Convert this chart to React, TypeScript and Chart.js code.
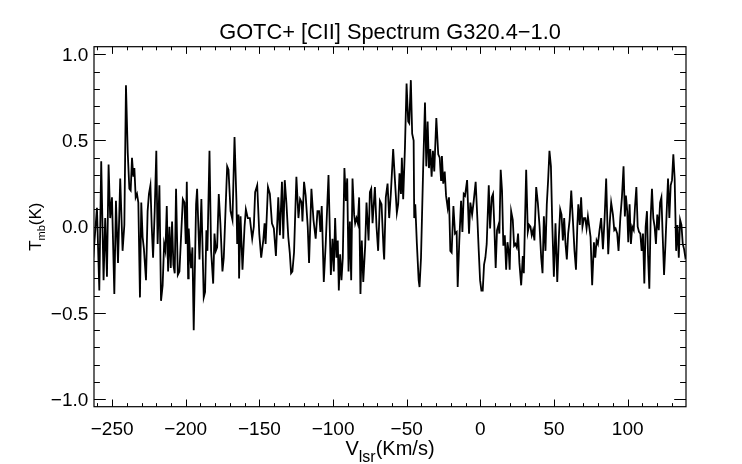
import React, { useEffect, useRef } from "react";
import { Chart, registerables } from "chart.js";

Chart.register(...registerables);

// ---- data (velocity km/s, Tmb K) ----
const vel1 = [-263.7,-262.8,-260.3,-258.7,-257.4,-255.8,-254.7,-253.5,-252.4,-251.3,-250.1,-248.5,-247.4,-246.0,-244.5,-242.9,-241.7,-240.6,-239.4,-238.3,-237.4,-236.5,-235.6,-234.9,-234.0,-233.1,-232.2,-231.1,-230.2,-229.3,-228.4,-227.0,-225.9,-225.0,-224.0,-223.1,-222.2,-221.1,-220.0,-219.1,-217.9,-216.8,-215.7,-214.7,-213.8,-212.9,-212.0,-211.1,-210.2,-209.3,-208.4,-207.5,-206.6,-205.4,-204.3,-203.2,-202.0,-200.9,-200.0,-199.3,-198.4];
const tmb1 = [-0.08,-0.18,0.11,-0.37,0.38,-0.31,0.05,-0.29,0.36,0.05,0.17,-0.39,0.15,-0.21,0.28,-0.14,0.01,0.82,0.43,0.22,0.21,0.40,0.29,0.34,0.17,0.19,0.14,-0.41,0.14,-0.06,-0.13,-0.31,0.09,0.19,0.24,0.00,-0.18,0.09,0.44,-0.10,0.24,-0.43,-0.34,-0.10,-0.14,0.12,-0.26,0.00,-0.24,0.03,-0.22,-0.27,0.22,-0.28,-0.26,-0.06,0.16,0.14,-0.10,0.26,-0.30];

const vel2 = [-198.0,-197.3,-196.4,-195.5,-194.6,-193.0,-192.3,-190.7,-189.4,-187.8,-186.9,-186.0,-185.3,-183.9,-182.8,-181.4,-180.5,-179.6,-178.7,-177.6,-176.5,-175.1,-174.2,-171.9,-171.0,-169.6,-168.3,-166.9,-165.6,-165.1,-164.2,-163.8,-162.8,-161.5,-160.1,-159.2,-157.9,-156.5,-154.9,-153.8,-152.9,-151.5,-150.1,-148.8,-147.4,-146.5,-145.8,-144.2,-142.9,-141.5,-140.2,-138.8,-137.2,-136.1,-134.7,-133.8];
const tmb2 = [-0.01,-0.13,-0.24,-0.12,-0.60,0.13,0.22,-0.19,0.16,-0.41,-0.38,-0.02,-0.14,0.44,-0.14,-0.33,-0.04,-0.14,-0.12,0.19,0.02,-0.26,-0.18,0.35,0.33,0.09,0.04,0.52,0.15,-0.10,0.07,-0.30,0.06,-0.25,0.00,0.10,0.05,0.05,-0.07,0.00,0.20,0.24,-0.04,-0.18,-0.08,0.02,-0.10,0.23,0.19,0.02,-0.01,-0.17,0.17,-0.05,0.26,-0.07];

const vel3 = [-132.8,-131.7,-130.4,-129.4,-128.5,-127.6,-126.5,-124.9,-123.5,-122.4,-121.3,-120.8,-119.7,-118.6,-117.2,-116.3,-114.7,-113.3,-111.8,-110.6,-109.5,-108.6,-107.7,-106.3,-105.0,-103.1,-101.5,-100.4,-99.5,-98.6,-97.7,-96.8,-96.1,-95.2,-94.3,-93.4,-92.3,-91.3,-90.4,-89.5,-88.6,-87.7,-86.8,-85.7,-85.0,-84.1,-83.2,-82.3,-81.4,-80.5,-79.5,-78.2,-77.3,-75.9,-75.0,-74.1,-73.2,-71.6,-70.5,-69.4];
const tmb3 = [0.27,0.14,-0.06,-0.15,-0.27,-0.26,-0.15,0.29,0.05,0.16,0.14,0.03,0.26,0.18,0.00,-0.21,0.22,0.04,-0.07,0.09,0.09,-0.03,0.12,-0.32,-0.10,0.30,-0.28,-0.07,-0.26,0.05,-0.18,-0.08,-0.37,-0.16,-0.31,-0.18,0.34,0.15,0.28,-0.26,0.03,-0.31,0.28,0.07,0.02,0.05,0.02,0.17,-0.39,-0.08,-0.32,-0.11,0.14,-0.08,0.20,0.22,0.02,0.23,0.00,-0.14];

const vel4 = [-68.2,-67.1,-65.7,-65.3,-64.2,-63.0,-61.9,-60.8,-59.2,-58.0,-56.7,-55.8,-54.9,-53.9,-53.3,-52.4,-51.2,-50.1,-49.0,-48.3,-47.2,-46.3,-45.3,-44.9,-44.2,-43.1,-41.9,-41.3,-40.3,-38.8,-37.6,-36.7,-35.8,-34.9,-34.0,-33.1,-32.2,-31.3,-29.9,-28.6,-27.6,-26.7,-26.1,-25.2,-24.2,-23.3,-22.2,-21.3,-20.4,-19.5,-18.3,-17.2,-16.1,-15.4,-14.3,-13.1,-12.2,-11.3,-10.4,-9.0,-7.7,-6.8,-5.6,-4.5];
const tmb4 = [0.15,0.13,-0.14,-0.19,0.17,0.25,0.05,0.19,0.45,0.27,0.08,0.13,0.31,0.19,0.40,0.16,0.46,0.83,0.61,0.60,0.85,0.54,0.50,0.05,0.13,-0.10,-0.31,-0.35,-0.18,0.35,0.72,0.35,0.61,0.34,0.45,0.29,0.44,0.32,0.63,0.42,0.40,0.27,0.41,0.25,0.32,0.18,0.11,0.17,-0.14,-0.15,0.12,-0.04,-0.03,-0.35,-0.08,0.15,-0.03,0.19,0.18,0.27,-0.04,0.14,0.07,0.15];

const vel5 = [-3.2,-2.0,-1.1,-0.2,0.7,1.6,2.5,3.4,4.3,5.7,6.6,7.7,8.6,9.5,10.4,11.3,12.3,12.9,13.8,14.7,15.6,16.6,17.5,18.4,19.3,19.9,20.9,22.0,22.9,23.8,24.7,25.6,26.5,27.7,28.8,29.5,30.4,31.1,32.2,33.1,34.0,34.9,35.8,36.7,37.9,39.0,40.2,41.3,42.2,43.1,44.2,45.1,46.0,46.9,47.9,48.8,49.9,51.0,52.2,53.3,54.2,55.1,56.0,56.9,57.8,58.7,59.6,60.6,61.7,62.8,63.9,64.9,65.8,66.5];
const tmb5 = [0.26,0.04,-0.14,-0.31,-0.37,-0.37,-0.22,-0.18,-0.10,0.24,-0.01,0.17,0.19,0.00,-0.24,-0.02,0.01,-0.04,0.33,0.21,-0.11,-0.05,-0.25,-0.09,-0.15,-0.25,0.09,0.04,-0.11,-0.10,-0.12,-0.04,-0.21,-0.34,-0.17,-0.27,0.07,0.33,-0.03,0.01,0.00,-0.05,-0.02,-0.08,0.23,0.14,0.00,-0.18,-0.27,0.06,-0.14,0.13,0.27,0.44,0.35,0.02,-0.29,0.02,-0.32,-0.06,0.10,0.07,-0.08,0.05,-0.10,-0.19,-0.04,0.04,0.21,0.04,-0.14,-0.25,0.00,0.13];

const vel6 = [67.5,68.4,69.3,70.3,71.2,72.1,73.0,73.9,74.8,75.9,77.1,78.0,78.9,79.8,80.9,82.0,83.2,84.3,85.4,86.8,87.9,88.8,90.0,90.9,91.8,92.9,93.8,95.0,96.1,97.2,98.1,98.8,99.7,100.4,101.3,102.2,103.1,104.1,105.0,105.9,106.8,107.7,108.6,109.5,110.4,111.3,112.2,113.1,113.8,114.7,115.6,116.5,117.4,118.3,119.2,120.1,121.1,122.0,122.9,123.8,124.7,125.6,126.5,127.4,128.3,129.2,130.1,131.0,131.9,132.9,133.8,134.7,135.6,136.5,137.4,138.3,139.2,140.1];
const tmb6 = [0.01,0.17,0.00,0.05,0.05,-0.01,0.06,0.00,-0.06,-0.34,-0.09,-0.18,-0.08,-0.10,-0.02,0.05,-0.13,0.04,0.28,-0.16,0.03,0.14,0.07,-0.02,-0.01,-0.04,-0.14,0.05,0.17,0.35,0.06,0.18,0.09,-0.09,0.13,-0.10,0.00,-0.02,0.12,0.23,0.00,-0.03,-0.04,-0.14,-0.04,-0.33,0.00,0.09,-0.16,-0.36,0.05,0.22,0.05,0.00,-0.10,0.07,-0.02,0.14,0.17,-0.06,-0.28,-0.11,0.09,0.28,0.05,0.24,0.27,0.42,0.28,-0.14,0.01,-0.18,0.04,0.01,-0.10,-0.13,-0.18,-0.17];

const xTickValues = [-250, -200, -150, -100, -50, 0, 50, 100];
const xTickLabels = ["\u2212250", "\u2212200", "\u2212150", "\u2212100", "\u221250", "0", "50", "100"];
const yTickValues = [-1.0, -0.5, 0.0, 0.5, 1.0];
const yTickLabels = ["\u22121.0", "\u22120.5", "0.0", "0.5", "1.0"];

const TITLE = "GOTC+ [CII] Spectrum G320.4\u22121.0";
const X_MIN = -262.3;
const X_MAX = 139.6;
const Y_MIN = -1.044;
const Y_MAX = 1.044;

const FONT = '"Liberation Sans", Arial, Helvetica, sans-serif';

function buildPoints() {
  const vs = [vel1, vel2, vel3, vel4, vel5, vel6];
  const ts = [tmb1, tmb2, tmb3, tmb4, tmb5, tmb6];
  const pts: { x: number; y: number }[] = [];
  for (let s = 0; s < vs.length; s++) {
    const n = Math.min(vs[s].length, ts[s].length);
    for (let i = 0; i < n; i++) pts.push({ x: vs[s][i], y: ts[s][i] });
  }
  return pts;
}

const idlAxes = {
  id: "idlAxes",
  afterDraw(chart: any) {
    const { ctx, chartArea: a, scales } = chart;
    const xs = scales.x;
    const ys = scales.y;
    ctx.save();
    ctx.strokeStyle = "#000";
    ctx.lineWidth = 1.2;
    ctx.strokeRect(a.left, a.top, a.right - a.left, a.bottom - a.top);

    ctx.lineWidth = 1;
    // x ticks (major every 50, minor every 10), top and bottom, pointing inward
    for (let v = -260; v <= 130; v += 10) {
      const major = xTickValues.indexOf(v) >= 0;
      const L = major ? 7.2 : 3.6;
      const px = Math.round(xs.getPixelForValue(v)) + 0.5;
      ctx.beginPath();
      ctx.moveTo(px, a.bottom);
      ctx.lineTo(px, a.bottom - L);
      ctx.moveTo(px, a.top);
      ctx.lineTo(px, a.top + L);
      ctx.stroke();
    }
    // y ticks (major every 0.5, minor every 0.1), left and right
    for (let i = -10; i <= 10; i++) {
      const v = i / 10;
      const major = i % 5 === 0;
      const L = major ? 11.8 : 5.9;
      const py = Math.round(ys.getPixelForValue(v)) + 0.5;
      ctx.beginPath();
      ctx.moveTo(a.left, py);
      ctx.lineTo(a.left + L, py);
      ctx.moveTo(a.right, py);
      ctx.lineTo(a.right - L, py);
      ctx.stroke();
    }

    ctx.fillStyle = "#000";
    // tick labels
    ctx.font = `19px ${FONT}`;
    ctx.textBaseline = "alphabetic";
    ctx.textAlign = "center";
    xTickValues.forEach((v, i) => {
      ctx.fillText(xTickLabels[i], xs.getPixelForValue(v), a.bottom + 28.3);
    });
    ctx.textAlign = "right";
    yTickValues.forEach((v, i) => {
      ctx.fillText(yTickLabels[i], a.left - 5.7, ys.getPixelForValue(v) + 6.7);
    });

    // title
    ctx.textAlign = "center";
    ctx.font = `21.8px ${FONT}`;
    ctx.fillText(TITLE, (a.left + a.right) / 2, a.top - 7.4);

    // x axis title: V_lsr(Km/s)
    const cx = (a.left + a.right) / 2;
    const base = a.bottom + 48.3;
    ctx.textAlign = "left";
    const mainF = `20px ${FONT}`;
    const subF = `16px ${FONT}`;
    ctx.font = mainF;
    const wV = ctx.measureText("V").width;
    const wR = ctx.measureText("(Km/s)").width;
    ctx.font = subF;
    const wS = ctx.measureText("lsr").width;
    let x0 = cx - (wV + wS + wR) / 2;
    ctx.font = mainF;
    ctx.fillText("V", x0, base);
    x0 += wV;
    ctx.font = subF;
    ctx.fillText("lsr", x0, base + 6.5);
    x0 += wS;
    ctx.font = mainF;
    ctx.fillText("(Km/s)", x0, base);

    // y axis title: T_mb(K), rotated
    const cy = (a.top + a.bottom) / 2;
    ctx.translate(40.7, cy);
    ctx.rotate(-Math.PI / 2);
    const yMain = `17px ${FONT}`;
    const ySub = `11px ${FONT}`;
    ctx.font = yMain;
    const wT = ctx.measureText("T").width;
    const wK = ctx.measureText("(K)").width;
    ctx.font = ySub;
    const wM = ctx.measureText("mb").width;
    let y0 = -(wT + wM + wK) / 2;
    ctx.font = yMain;
    ctx.fillText("T", y0, 0);
    y0 += wT;
    ctx.font = ySub;
    ctx.fillText("mb", y0, 4.3);
    y0 += wM;
    ctx.font = yMain;
    ctx.fillText("(K)", y0, 0);

    ctx.restore();
  },
};

export default function App() {
  const ref = useRef<HTMLCanvasElement | null>(null);

  useEffect(() => {
    if (!ref.current) return;
    const chart = new Chart(ref.current, {
      type: "line",
      data: {
        datasets: [
          {
            data: buildPoints(),
            borderColor: "#000",
            borderWidth: 1.8,
            pointRadius: 0,
            tension: 0,
            fill: false,
          },
        ],
      },
      options: {
        responsive: false,
        animation: false,
        layout: { padding: { left: 94, right: 56, top: 46.7, bottom: 57.3 } },
        plugins: {
          legend: { display: false },
          title: { display: false },
          tooltip: { enabled: false },
        },
        scales: {
          x: { type: "linear", min: X_MIN, max: X_MAX, display: false },
          y: { type: "linear", min: Y_MIN, max: Y_MAX, display: false },
        },
      },
      plugins: [idlAxes],
    });
    return () => chart.destroy();
  }, []);

  return (
    <div style={{ position: "absolute", left: 0, top: 0, width: 742, height: 464, background: "#fff" }}>
      <canvas ref={ref} width={742} height={464} style={{ display: "block" }} />
    </div>
  );
}
